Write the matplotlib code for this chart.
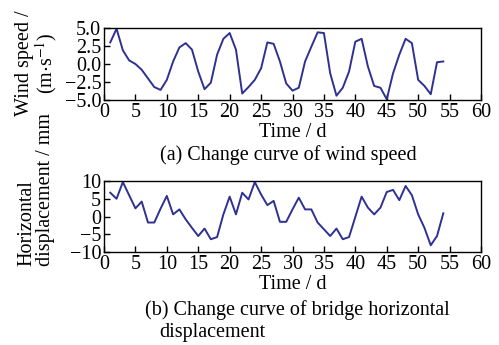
import numpy as np
import matplotlib.pyplot as plt

plt.rcParams['font.family'] = ['Liberation Serif', 'DejaVu Serif']
plt.rcParams['mathtext.fontset'] = 'stix'

# days
days_wind = list(range(1, 55))
wind_speed = [3.0, 4.9, 1.9, 0.5, 0.0, -0.8, -2.0, -3.2, -3.6, -2.2,
              0.35, 2.3, 2.9, 2.0, -1.05, -3.5, -2.6, 1.3, 3.5, 4.3,
              2.0, -4.1, -3.2, -2.2, -0.6, 3.0, 2.8, 0.35, -2.7, -3.7,
              -3.3, 0.35, 2.4, 4.4, 4.3, -1.3, -4.4, -3.3, -1.05, 3.1,
              3.5, -0.35, -3.05, -3.3, -4.9, -1.3, 1.3, 3.5, 2.9, -2.2,
              -3.05, -4.2, 0.25, 0.35]

days_disp = list(range(1, 55))
displacement = [6.7, 5.0, 9.7, 6.0, 2.3, 4.2, -1.7, -1.7, 2.2, 5.8,
                0.6, 2.0, -0.8, -3.2, -5.5, -3.4, -6.4, -5.8, 0.6, 5.6,
                0.6, 6.7, 4.8, 9.7, 6.2, 3.2, 4.4, -1.5, -1.5, 2.0,
                5.3, 2.0, 2.0, -1.7, -3.6, -5.5, -3.4, -6.4, -5.8, -0.1,
                5.6, 2.5, 0.6, 2.5, 6.9, 7.5, 4.6, 8.6, 6.0, 0.6,
                -3.2, -8.1, -5.5, 0.9]

line_color = '#2e3192'
fs = 14.5
W, H = 499, 345

fig = plt.figure(figsize=(4.99, 3.45), dpi=100)

ax1 = fig.add_axes([104/W, 1 - 100/H, 377/W, 72/H])
ax1.plot(days_wind, wind_speed, color=line_color, lw=1.4)
ax1.set_xlim(0, 60)
ax1.set_ylim(-5, 5)
ax1.set_xticks(np.arange(0, 61, 5))
ax1.set_yticks([-5, -2.5, 0, 2.5, 5])
ax1.set_yticklabels(['\u22125.0', '\u22122.5', '0.0', '2.5', '5.0'])
ax1.set_xlabel('Time / d', fontsize=fs, labelpad=1)

ax2 = fig.add_axes([104/W, 1 - 252/H, 377/W, 71/H])
ax2.plot(days_disp, displacement, color=line_color, lw=1.4)
ax2.set_xlim(0, 60)
ax2.set_ylim(-10, 10)
ax2.set_xticks(np.arange(0, 61, 5))
ax2.set_yticks([-10, -5, 0, 5, 10])
ax2.set_yticklabels(['\u221210', '\u22125', '0', '5', '10'])
ax2.set_xlabel('Time / d', fontsize=fs, labelpad=1)

for ax in (ax1, ax2):
    ax.tick_params(direction='in', length=4, width=1, labelsize=fs, pad=2,
                   top=False, right=False)
    for s in ax.spines.values():
        s.set_linewidth(1.0)

# y labels as figure text so the two-line blocks sit like the reference
fig.text(37/W, 1 - 63/H, 'Wind speed /\n(m$\\cdot$s$^{-1}$)', fontsize=fs,
         rotation=90, ha='center', va='center', multialignment='center',
         linespacing=1.0)
fig.text(36/W, 1 - 189/H, 'Horizontal\ndisplacement / mm', fontsize=fs,
         rotation=90, ha='center', va='center', multialignment='left',
         linespacing=0.95)

fig.text(288/W, 1 - 155/H, '(a) Change curve of wind speed',
         fontsize=fs, ha='center', va='center')
fig.text(145/W, 1 - 310/H, '(b) Change curve of bridge horizontal',
         fontsize=fs, ha='left', va='center')
fig.text(159/W, 1 - 332/H, 'displacement',
         fontsize=fs, ha='left', va='center')

fig.savefig('out.png', dpi=100)
